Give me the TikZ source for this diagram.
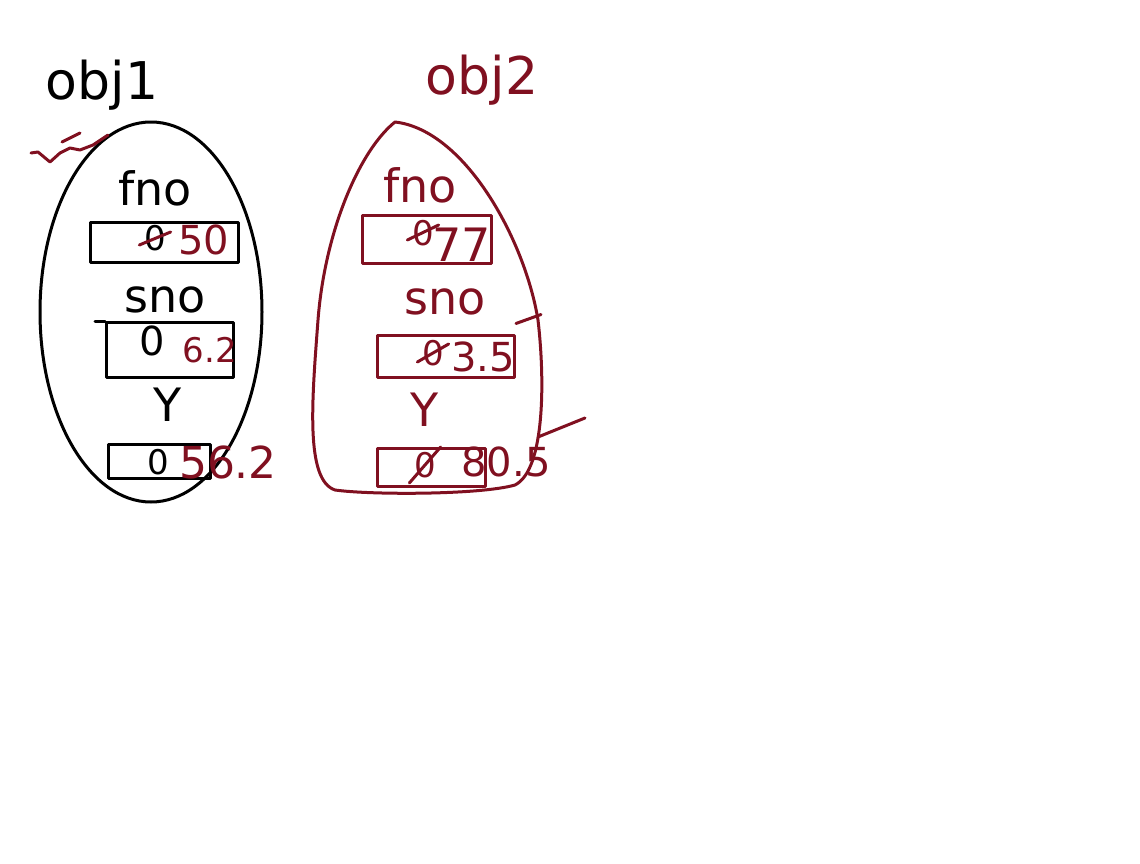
\documentclass[tikz,border=0pt]{standalone}
\usepackage{fontspec}
\setmainfont{DejaVu Sans}
\usepackage{tikz}
\usetikzlibrary{shapes.geometric,positioning}
\definecolor{maroon}{RGB}{128,16,32}

\begin{document}
\begin{tikzpicture}[x=1pt, y=-1pt, line width=3pt, line join=round, line cap=round,
    title/.style={font=\fontsize{52}{56}\selectfont},
    field/.style={font=\fontsize{46}{50}\selectfont},
    slot/.style={draw, inner sep=0pt},
    zero/.style={font=\fontsize{34}{38}\selectfont},
    num/.style={font=\fontsize{40}{44}\selectfont, text=maroon}]

    \useasboundingbox[fill=white] (0,0) rectangle (1140,864);

    % obj1
    \node[title] (t1) at (102,85) {obj1};
    \node[draw, ellipse, minimum width=222pt, minimum height=380pt] (egg1) at (151,312) {};
    \draw[maroon] (31,153) -- (38,152) -- (50,162) -- (60,153) -- (70,148) -- (80,150)
        -- (93,145) -- (108,135);
    \draw[maroon] (62,142) -- (80,133);

    \node[field] (f1) at (155,188) {fno};
    \node[slot, minimum width=148pt, minimum height=40pt] (b1) at (164,242) {};
    \node[zero] (z1) at (155,238) {0};
    \draw[maroon] ([yshift=-7pt]z1.west) -- ([yshift=6pt]z1.east);
    \node[num] (v1) at (204,240) {50};

    \node[field] (s1) at (165,300) {sno};
    \node[slot, minimum width=127pt, minimum height=55pt] (b2) at (170,350) {};
    \draw (b2.north west) -- ++(-10,0);
    \node[zero, font=\fontsize{40}{44}\selectfont] (z2) at (152,341) {0};
    \node[num, font=\fontsize{34}{38}\selectfont] (v2) at (210,350) {6.2};

    \node[field] (r1) at (168,405) {Y};
    \node[slot, minimum width=102pt, minimum height=34pt] (b3) at (159,461) {};
    \node[zero] (z3) at (158,462) {0};
    \node[num, font=\fontsize{44}{48}\selectfont] (v3) at (228,462) {56.2};

    % obj2
    \node[title, text=maroon] (t2) at (482,80) {obj2};
    \draw[maroon] (395,122) .. controls (465,130) and (525,240) .. (538,320)
        .. controls (545,380) and (545,470) .. (515,485)
        .. controls (480,495) and (370,495) .. (335,490)
        .. controls (305,480) and (312,400) .. (318,320)
        .. controls (325,230) and (360,150) .. (395,122) -- cycle;

    \node[field, text=maroon] (f2) at (420,185) {fno};
    \node[slot, draw=maroon, minimum width=129pt, minimum height=48pt] (b4) at (427,239) {};
    \node[zero, text=maroon] (z4) at (423,233) {0};
    \draw[maroon] ([yshift=-7pt]z4.west) -- ([yshift=8pt]z4.east);
    \node[num, font=\fontsize{46}{50}\selectfont] (v4) at (462,245) {77};

    \node[field, text=maroon] (s2) at (445,302) {sno};
    \node[slot, draw=maroon, minimum width=137pt, minimum height=42pt] (b5) at (446,356) {};
    \node[zero, text=maroon] (z5) at (433,353) {0};
    \draw[maroon] ([yshift=-9pt]z5.west) -- ([yshift=9pt]z5.east);
    \node[num] (v5) at (483,357) {3.5};
    \draw[maroon] (b5.north east) ++(0,-10) coordinate (e5) -- ++(25,-9);

    \node[field, text=maroon] (r2) at (425,410) {Y};
    \node[slot, draw=maroon, minimum width=108pt, minimum height=38pt] (b6) at (431,467) {};
    \node[zero, text=maroon] (z6) at (425,465) {0};
    \draw[maroon] ([yshift=-18pt]z6.west) -- ([yshift=18pt]z6.east);
    \node[num] (v6) at (506,462) {80.5};
    \draw[maroon] (538,437) coordinate (e6) -- (585,418);
\end{tikzpicture}
\end{document}
